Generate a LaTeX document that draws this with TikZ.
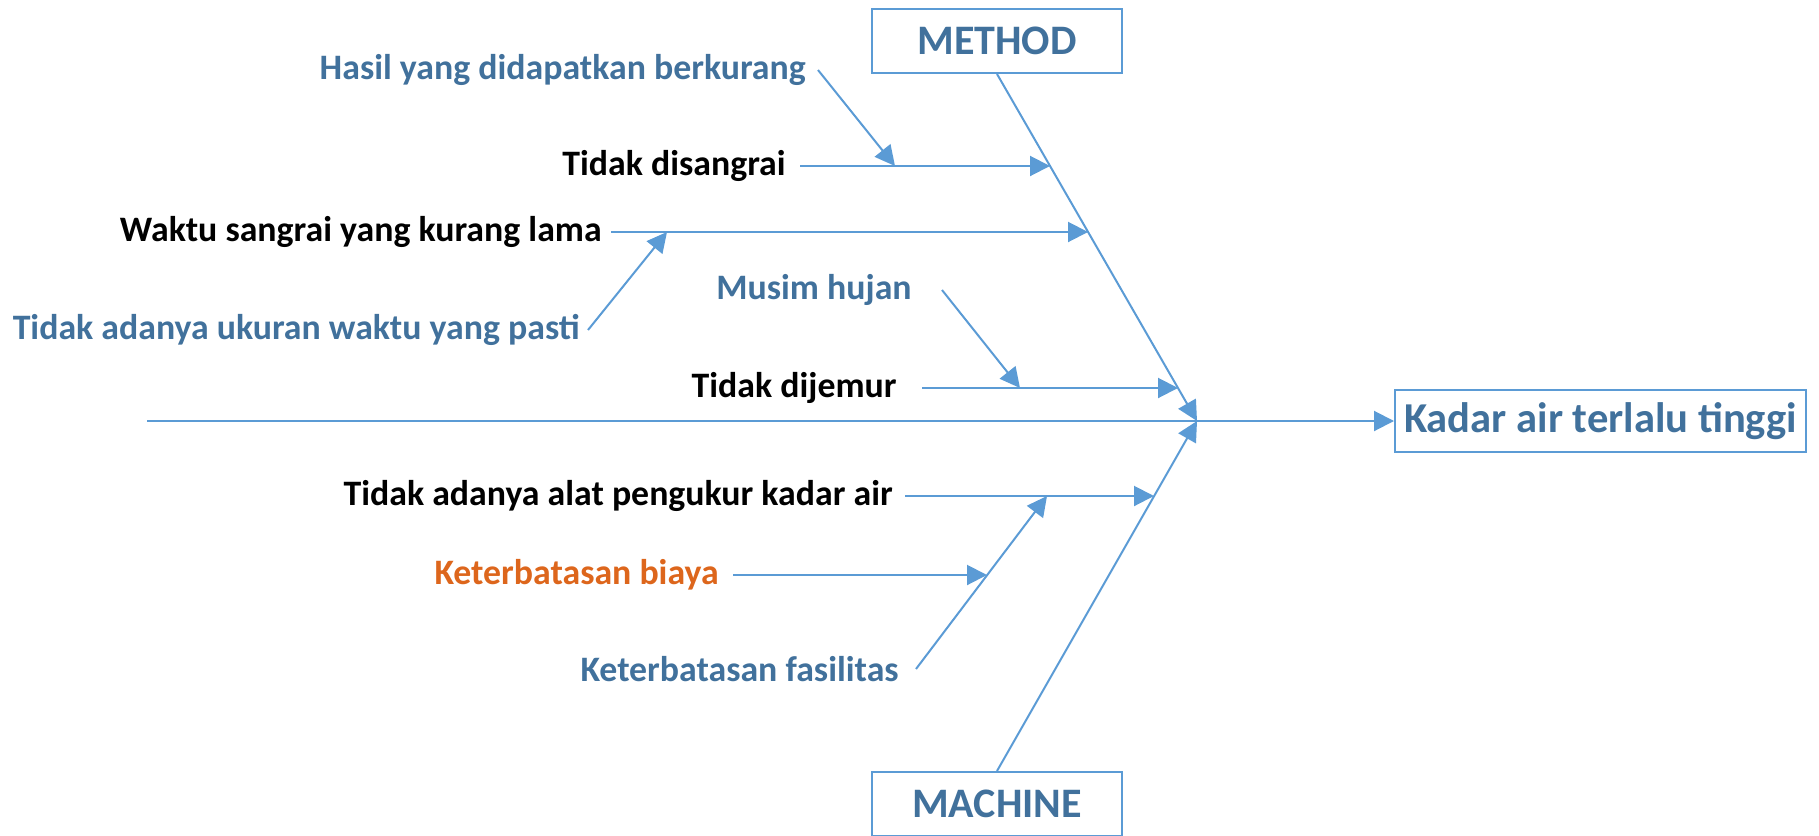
\documentclass[tikz,border=0pt]{standalone}
\usepackage{fontspec}
\setmainfont{Carlito}
\usetikzlibrary{arrows.meta}
\definecolor{bonecol}{HTML}{5B9BD5}
\definecolor{causeblue}{HTML}{41719C}
\definecolor{causeorange}{HTML}{DD661C}
\begin{document}
\begin{tikzpicture}[x=0.5pt,y=-0.5pt,
  bone/.style={draw=bonecol, line width=1pt},
  arr/.style={bone, -{Triangle[length=10pt,width=10pt]}},
  cause/.style={anchor=east, inner xsep=6pt, inner ysep=0pt,
    font=\fontsize{17.9}{20}\selectfont\bfseries},
  header/.style={draw=bonecol, line width=1pt, minimum width=125pt,
    minimum height=32pt, inner sep=0pt, text=causeblue,
    font=\fontsize{21}{24}\selectfont\bfseries}]
\useasboundingbox (0,0) rectangle (1819,835);

% category boxes and effect
\node[header] (method) at (997,41) {METHOD};
\node[header] (machine) at (997,804) {MACHINE};
\node[header, minimum width=205.5pt, minimum height=31pt,
  font=\fontsize{21.3}{24}\selectfont\bfseries] (effect) at (1600.5,421) {Kadar air terlalu tinggi};

% points on the bones
\coordinate (tail) at (147,421);
\coordinate (head) at (1197,421);
\coordinate (m1) at (1050,166);
\coordinate (m2) at (1088,232);
\coordinate (m3) at (1178,388);
\coordinate (k1) at (1154,496);
\coordinate (s1) at (895,166);
\coordinate (s2) at (667,232);
\coordinate (s3) at (1020,388);
\coordinate (s4) at (1047,496);
\coordinate (s5) at (987,575);

% causes
\node[cause, text=causeblue] (hasil) at (818,70) {Hasil yang didapatkan berkurang};
\node[cause, inner xsep=7pt] (disangrai) at (800,166) {Tidak disangrai};
\node[cause, inner xsep=4.5pt] (waktu) at (611,232) {Waktu sangrai yang kurang lama};
\node[cause, text=causeblue, inner xsep=4pt] (ukuran) at (588,330) {Tidak adanya ukuran waktu yang pasti};
\node[cause, text=causeblue, inner xsep=15pt] (musim) at (942,290) {Musim hujan};
\node[cause, inner xsep=12.5pt] (dijemur) at (922,388) {Tidak dijemur};
\node[cause] (alat) at (905,496) {Tidak adanya alat pengukur kadar air};
\node[cause, text=causeorange, inner xsep=7pt] (biaya) at (733,575) {Keterbatasan biaya};
\node[cause, text=causeblue, inner xsep=8.5pt] (fasilitas) at (916,669) {Keterbatasan fasilitas};

% spine and main bones
\draw[arr] (tail) -- (effect.west);
\draw[arr] (method.south) -- (head);
\draw[arr] (machine.north) -- (head);

% branches
\draw[arr] (disangrai.east) -- (m1);
\draw[arr] (waktu.east) -- (m2);
\draw[arr] (dijemur.east) -- (m3);
\draw[arr] (alat.east) -- (k1);
\draw[arr] (hasil.east) -- (s1);
\draw[arr] (ukuran.east) -- (s2);
\draw[arr] (musim.east) -- (s3);
\draw[arr] (fasilitas.east) -- (s4);
\draw[arr] (biaya.east) -- (s5);
\end{tikzpicture}
\end{document}
